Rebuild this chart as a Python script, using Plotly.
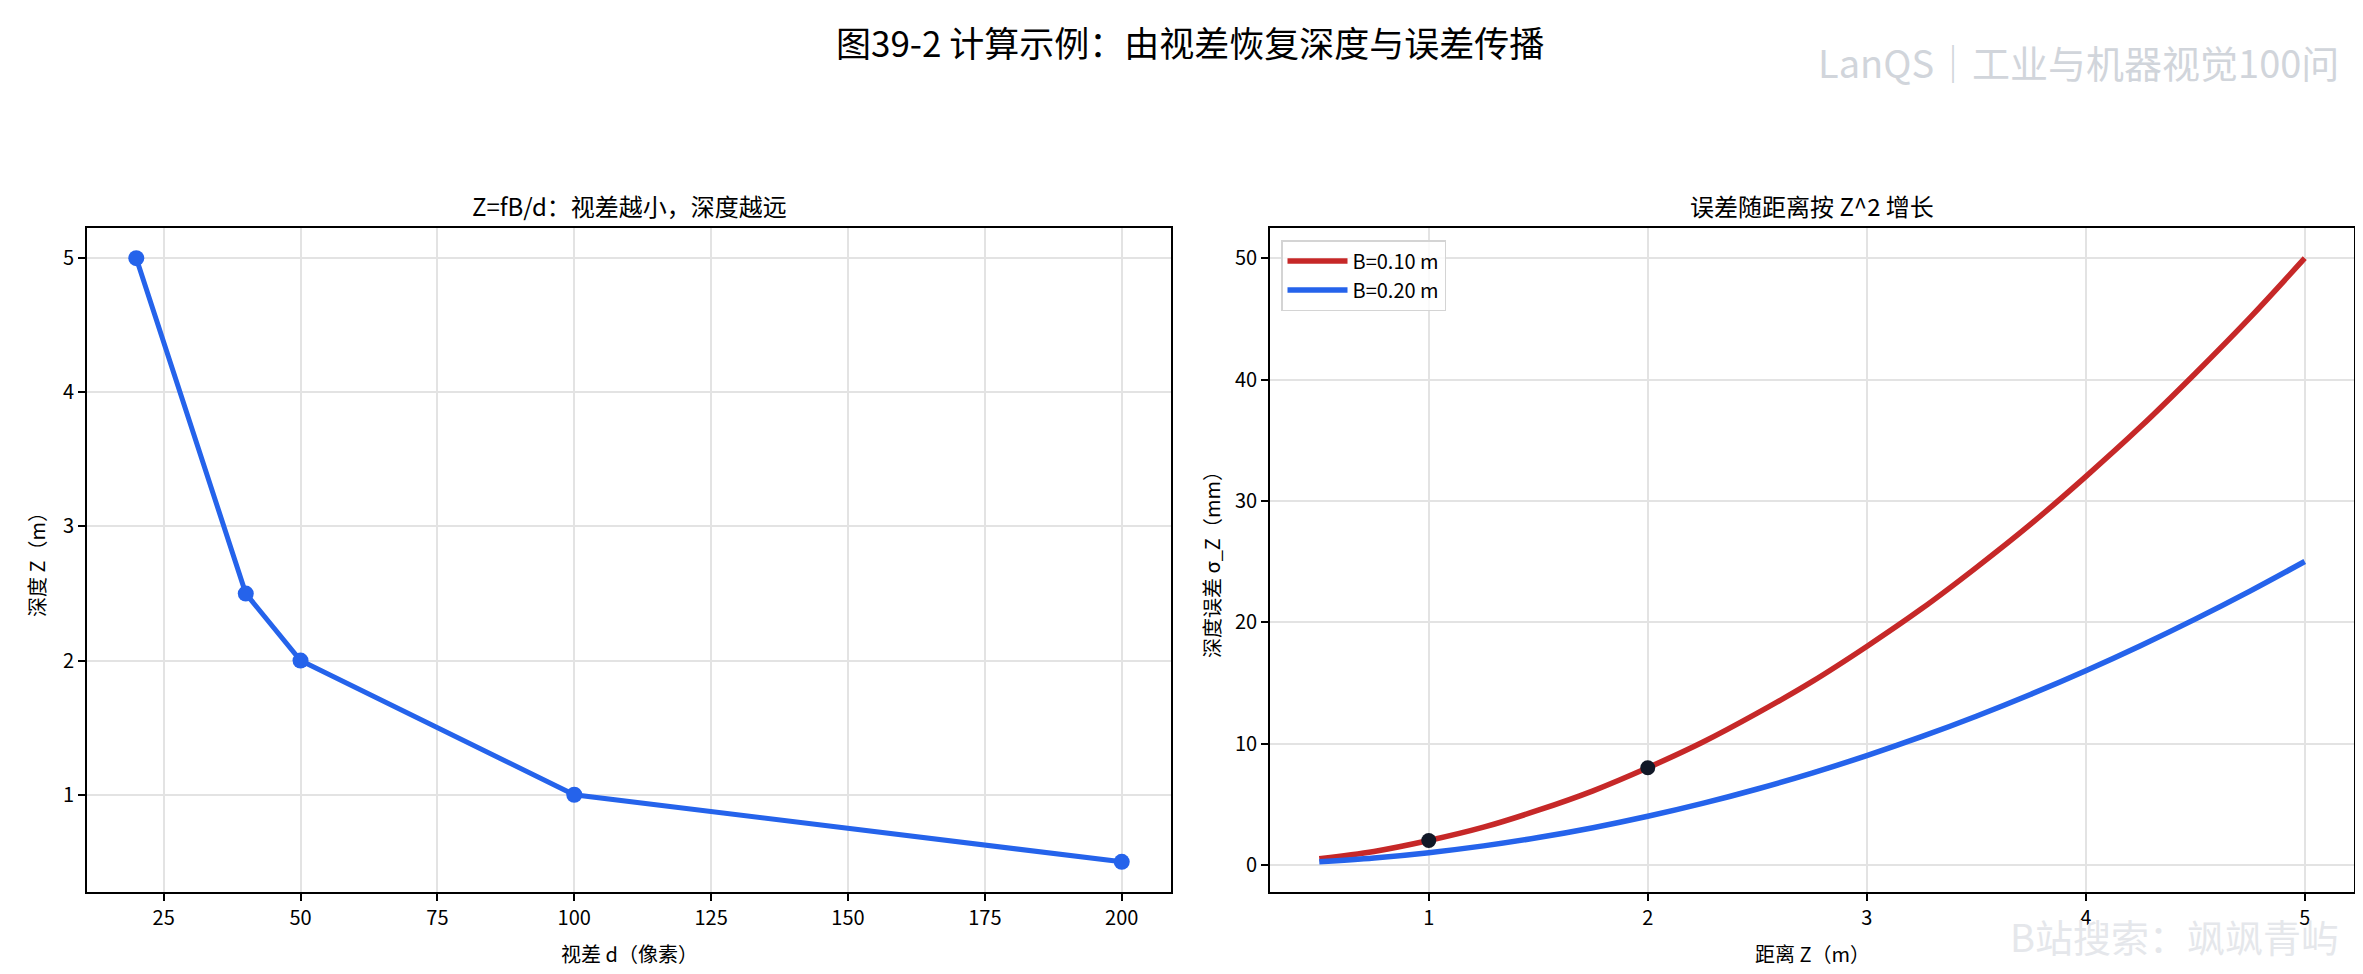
# 图39-2：由视差恢复深度与误差传播
import plotly.graph_objs as go

# data
disparity_px = [20, 40, 50, 100, 200]
depth_m = [5.0, 2.5, 2.0, 1.0, 0.5]

dist_z = [0.5, 0.75, 1.0, 1.25, 1.5, 1.75, 2.0, 2.25, 2.5, 2.75, 3.0,
          3.25, 3.5, 3.75, 4.0, 4.25, 4.5, 4.75, 5.0]
sigma_b10 = [0.5, 1.1, 2.0, 3.1, 4.5, 6.1, 8.0, 10.1, 12.5, 15.1, 18.0,
             21.1, 24.5, 28.1, 32.0, 36.1, 40.5, 45.1, 50.0]
sigma_b20 = [0.25, 0.56, 1.0, 1.56, 2.25, 3.06, 4.0, 5.06, 6.25, 7.56, 9.0,
             10.56, 12.25, 14.06, 16.0, 18.06, 20.25, 22.56, 25.0]
mark_z = [1, 2]
mark_sigma = [2.0, 8.0]

legend_names = ['B=0.10 m', 'B=0.20 m']

FONT = 'Noto Sans CJK SC'
W, H = 2363, 974
RED = '#c62828'
BLUE = '#2563eb'
GRID = '#e3e3e3'


def px(x):
    return x / W


def py(y):
    return 1 - y / H


# create traces
data = [
    go.Scatter(x=disparity_px, y=depth_m, mode='lines+markers',
               line=dict(color=BLUE, width=5), marker=dict(color=BLUE, size=16),
               showlegend=False, xaxis='x', yaxis='y'),
    go.Scatter(x=dist_z, y=sigma_b10, mode='lines', name=legend_names[0],
               line=dict(color=RED, width=5.5, shape='spline'),
               xaxis='x2', yaxis='y2'),
    go.Scatter(x=dist_z, y=sigma_b20, mode='lines', name=legend_names[1],
               line=dict(color=BLUE, width=5.5, shape='spline'),
               xaxis='x2', yaxis='y2'),
    go.Scatter(x=mark_z, y=mark_sigma, mode='markers',
               marker=dict(color='#111827', size=15),
               showlegend=False, xaxis='x2', yaxis='y2'),
]

axis_style = dict(showline=True, linecolor='black', linewidth=1.8, mirror=True,
                  ticks='outside', ticklen=7, tickwidth=1.6, tickcolor='black',
                  showgrid=True, gridcolor=GRID, gridwidth=1.5, zeroline=False,
                  tickfont=dict(family=FONT, size=20, color='black'))

ydom = [py(884), py(220)]


def note(text, x, y, size, color='black', angle=0, xanchor='center'):
    return dict(text=text, x=x, y=y, xref='paper', yref='paper',
                xanchor=xanchor, yanchor='middle', showarrow=False,
                textangle=angle, font=dict(family=FONT, size=size, color=color))


annotations = [
    note('图39-2 计算示例：由视差恢复深度与误差传播', 0.5, py(33), 35),
    note('LanQS｜工业与机器视觉100问', px(2333), py(53), 38, '#d1d5db', xanchor='right'),
    note('B站搜索：飒飒青屿', px(2333), py(927), 38, '#e5e7eb', xanchor='right'),
    note('Z=fB/d：视差越小，深度越远', px((79 + 1163) / 2), py(198), 24),
    note('误差随距离按 Z^2 增长', px((1262 + 2346) / 2), py(198), 24),
    note('视差 d（像素）', px((79 + 1163) / 2), py(945), 20),
    note('距离 Z（m）', px((1262 + 2346) / 2), py(945), 20),
    note('深度 Z（m）', px(28), py(552), 20, angle=-90),
    note('深度误差 σ_Z（mm）', px(1203), py(552), 20, angle=-90),
]

# create layout
layout = go.Layout(
    width=W, height=H,
    margin=dict(l=0, r=0, t=0, b=0),
    paper_bgcolor='white', plot_bgcolor='white',
    font=dict(family=FONT, color='black'),
    xaxis=dict(axis_style, domain=[px(79), px(1163)], range=[11, 209],
               tickvals=[25, 50, 75, 100, 125, 150, 175, 200], anchor='y'),
    yaxis=dict(axis_style, domain=ydom, range=[0.275, 5.225],
               tickvals=[1, 2, 3, 4, 5], anchor='x'),
    xaxis2=dict(axis_style, domain=[px(1262), px(2346)], range=[0.275, 5.225],
                tickvals=[1, 2, 3, 4, 5], anchor='y2'),
    yaxis2=dict(axis_style, domain=ydom, range=[-2.24, 52.49],
                tickvals=[0, 10, 20, 30, 40, 50], anchor='x2'),
    legend=dict(x=px(1273), y=py(232), xanchor='left', yanchor='top',
                bgcolor='rgba(255,255,255,0.8)', bordercolor='#d4d4d4', borderwidth=1.5,
                font=dict(family=FONT, size=20, color='black'), itemwidth=60,
                tracegroupgap=4),
    annotations=annotations,
    showlegend=True,
)

fig = go.Figure(data=data, layout=layout)
fig.write_html('out.html')
